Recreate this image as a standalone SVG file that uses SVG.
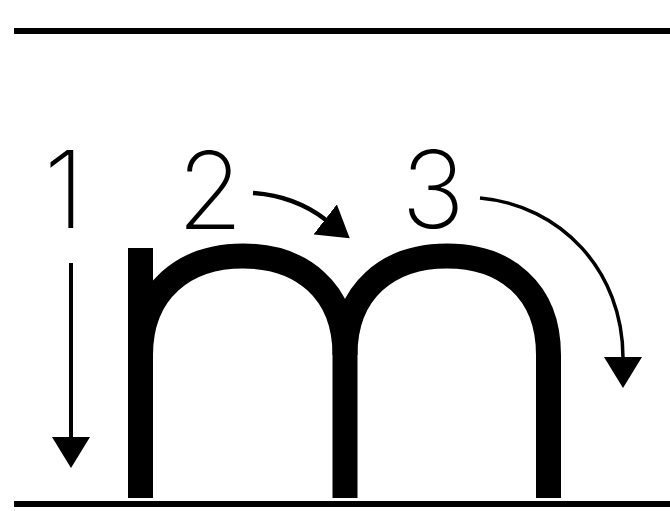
<svg xmlns="http://www.w3.org/2000/svg" width="670" height="511" viewBox="0 0 670 511">
  <style>
    .guide { stroke: #000; stroke-width: 6; fill: none; }
    .letter { stroke: #000; stroke-width: 25; fill: none; stroke-linecap: butt; stroke-linejoin: miter; }
    .num { font-family: "Inter", "Roboto", "DejaVu Sans", sans-serif; font-weight: 250; font-size: 107px; fill: #000; }
    .arrow { stroke: #000; fill: none; marker-end: url(#head); }
  </style>
  <defs>
    <marker id="head" markerUnits="userSpaceOnUse" markerWidth="32" markerHeight="38" refX="1" refY="19" orient="auto" viewBox="0 0 32 38">
      <path d="M0,0 L31,19 L0,38 Z" fill="#000"/>
    </marker>
  </defs>
  <rect width="670" height="511" fill="#fff"/>
  <g id="guide-lines">
    <line class="guide" x1="14" y1="31" x2="670" y2="31"/>
    <line class="guide" x1="14" y1="504" x2="670" y2="504"/>
  </g>
  <g id="letter-m">
    <path class="letter" d="M140.5,248 L140.5,498"/>
    <path class="letter" d="M140.5,355 C140.5,290 185,256 243,256 C301,256 345,290 345,355 L345,498"/>
    <path class="letter" d="M345,355 C345,290 389,256 447,256 C505,256 548.5,290 548.5,355 L548.5,498"/>
  </g>
  <g id="labels">
    <text id="label-1" class="num" x="64" y="228" text-anchor="middle">1</text>
    <text id="label-2" class="num" x="210" y="229" text-anchor="middle">2</text>
    <text id="label-3" class="num" x="433" y="228" text-anchor="middle">3</text>
  </g>
  <g id="connectors">
    <path id="stroke-1" class="arrow" stroke-width="4" d="M71,263 L71,438"/>
    <path id="stroke-2" class="arrow" stroke-width="4.5" d="M253,193 Q295,196 326,220"/>
    <path id="stroke-3" class="arrow" stroke-width="3.5" d="M480,198 C560,205 623,270 623,358"/>
  </g>
</svg>
